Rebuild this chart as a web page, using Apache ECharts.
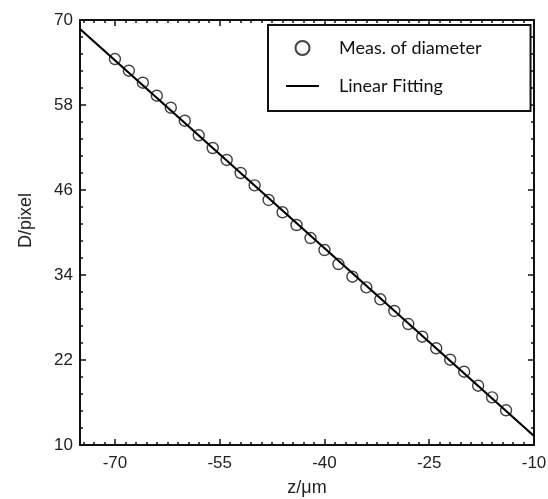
<!DOCTYPE html>
<html>
<head>
<meta charset="utf-8">
<script src="https://cdn.jsdelivr.net/npm/echarts@6/dist/echarts.min.js"></script>
<style>html,body{margin:0;padding:0;background:#fff;}#c{width:548px;height:499px;}</style>
</head>
<body>
<div id="c"></div>
<script>
// Measured points
const measZ = [-70,-68,-66,-64,-62,-60,-58,-56,-54,-52,-50,-48,-46,-44,-42,-40,-38,-36,-34,-32,-30,-28,-26,-24,-22,-20,-18,-16,-14];
const measD = [64.49,62.84,61.15,59.31,57.62,55.78,53.72,51.93,50.24,48.40,46.66,44.59,42.85,41.06,39.22,37.53,35.55,33.76,32.26,30.57,28.92,27.08,25.29,23.65,22.04,20.35,18.37,16.73,14.90];
// Linear fitting line end points
const fitZ = [-75, -10];
const fitD = [68.73, 11.27];
// Tick labels
const xTicks = [-70, -55, -40, -25, -10];
const yTicks = [10, 22, 34, 46, 58, 70];
const xMinorTicks = [];
for (let k = 0; k <= 43; k++) {
  const v = Math.round((-74.5 + 1.5 * k) * 10) / 10;
  if (xTicks.indexOf(v) < 0) xMinorTicks.push(v);
}
const seriesNames = ['Meas. of diameter', 'Linear Fitting'];

const chart = echarts.init(document.getElementById('c'));
const labelStyle = {color: '#222', fontFamily: 'Liberation Sans', fontSize: 17};
function xAxis(pos, values, len, showLabel, showLine) {
  return {
    type: 'value', position: pos, min: -75, max: -10,
    axisLine: {show: showLine, onZero: false, lineStyle: {color: '#111', width: 2}},
    axisTick: {show: true, inside: true, length: len, customValues: values, lineStyle: {color: '#111', width: 1.5}},
    axisLabel: Object.assign({show: showLabel, customValues: values, margin: 10}, labelStyle),
    splitLine: {show: false},
    name: showLabel ? 'z/\u03bcm' : '',
    nameLocation: 'middle', nameGap: 34, nameMoveOverlap: false,
    nameTextStyle: {color: '#222', fontFamily: 'Liberation Sans', fontSize: 18}
  };
}
function yAxis(pos, showLabel) {
  return {
    type: 'value', position: pos, min: yTicks[0], max: yTicks[yTicks.length - 1], interval: 12,
    axisLine: {show: true, onZero: false, lineStyle: {color: '#111', width: 2}},
    axisTick: {show: true, inside: true, length: 6, lineStyle: {color: '#111', width: 1.5}},
    minorTick: {show: true, splitNumber: 5, length: 3, lineStyle: {color: '#111', width: 1.5}},
    axisLabel: Object.assign({show: showLabel, margin: 7}, labelStyle),
    splitLine: {show: false},
    name: showLabel ? 'D/pixel' : '',
    nameLocation: 'middle', nameGap: 45, nameRotate: 90, nameMoveOverlap: false,
    nameTextStyle: {color: '#222', fontFamily: 'Liberation Sans', fontSize: 18, padding: [0, 0, 0, 24]}
  };
}
chart.setOption({
  animation: false,
  backgroundColor: '#fff',
  grid: {left: 80, right: 14, top: 20, bottom: 54, containLabel: false, outerBoundsMode: 'none'},
  xAxis: [
    xAxis('bottom', xTicks, 6, true, true),
    xAxis('bottom', xMinorTicks, 3, false, false),
    xAxis('top', xTicks, 6, false, true),
    xAxis('top', xMinorTicks, 3, false, false)
  ],
  yAxis: [yAxis('left', true), yAxis('right', false)],
  legend: {
    orient: 'vertical', left: 268, top: 25,
    padding: [14, 49, 16, 17],
    borderColor: '#111', borderWidth: 2, backgroundColor: '#fff',
    itemWidth: 33, itemHeight: 14, itemGap: 20,
    textStyle: {color: '#111', fontFamily: 'Lato', fontSize: 18, lineHeight: 14, padding: [0, 0, 0, 15]},
    data: seriesNames
  },
  series: [
    {
      name: seriesNames[0], type: 'scatter', symbol: 'circle', symbolSize: 11,
      itemStyle: {color: 'rgba(255,255,255,0)', borderColor: '#111', borderWidth: 1.4},
      data: measZ.map((z, i) => [z, measD[i]]), z: 3
    },
    {
      name: seriesNames[1], type: 'line', symbol: 'none',
      lineStyle: {color: '#000', width: 2.2},
      itemStyle: {color: 'rgba(0,0,0,0)'},
      data: fitZ.map((z, i) => [z, fitD[i]]), z: 4
    }
  ]
});
</script>
</body>
</html>
